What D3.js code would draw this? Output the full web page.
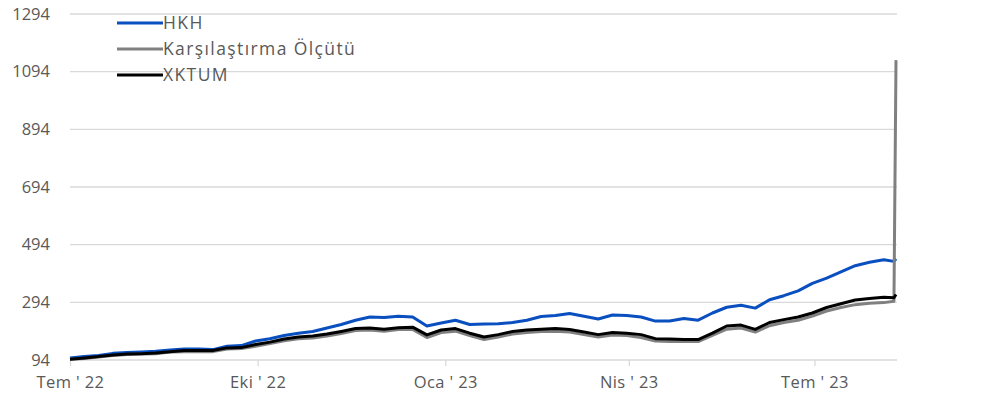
<!DOCTYPE html>
<html><head><meta charset="utf-8">
<script src="https://cdn.jsdelivr.net/npm/d3@7"></script>
<style>
html,body{margin:0;padding:0;background:#fff;}
svg text{font-family:"Open Sans",Lato,sans-serif;fill:#595959;}
</style></head>
<body><svg id="c" width="982" height="405"></svg>
<script>
const dates = ["2022-07-01","2022-07-08","2022-07-15","2022-07-22","2022-07-29","2022-08-05","2022-08-12","2022-08-19","2022-08-26","2022-09-02","2022-09-09","2022-09-16","2022-09-23","2022-09-30","2022-10-07","2022-10-14","2022-10-21","2022-10-28","2022-11-04","2022-11-11","2022-11-18","2022-11-25","2022-12-02","2022-12-09","2022-12-16","2022-12-23","2022-12-30","2023-01-06","2023-01-13","2023-01-20","2023-01-27","2023-02-03","2023-02-10","2023-02-17","2023-02-24","2023-03-03","2023-03-10","2023-03-17","2023-03-24","2023-03-31","2023-04-07","2023-04-14","2023-04-21","2023-04-28","2023-05-05","2023-05-12","2023-05-19","2023-05-26","2023-06-02","2023-06-09","2023-06-16","2023-06-23","2023-06-30","2023-07-07","2023-07-14","2023-07-21","2023-07-28","2023-08-04","2023-08-09","2023-08-10"];
const hkh = [101,106,110,117,120,122,124,129,132,132,130,142,144,160,168,179,187,193,205,217,232,243,241,246,243,212,222,232,217,219,220,224,232,245,248,255,246,236,250,248,243,229,229,238,232,257,277,284,274,303,317,334,360,378,400,421,433,442,436,445];
const benchmark = [97,99,104,110,113,115,116,122,123,123,123,132,134,142,151,161,168,170,177,186,196,198,194,200,200,172,189,194,179,165,174,184,189,193,194,191,182,174,181,179,172,160,158,158,158,179,201,205,191,213,224,232,246,264,276,286,291,293,298,1134];
const xktum = [97,101,106,111,115,116,118,123,127,127,127,136,137,148,156,167,174,177,184,193,203,205,201,206,208,181,198,203,187,174,182,193,198,201,203,200,191,182,189,187,182,168,167,165,165,187,212,215,200,224,234,243,257,276,289,302,307,312,310,321];
const seriesNames = ["HKH","Karşılaştırma Ölçütü","XKTUM"];
const seriesColors = ["#0a4fc0","#808080","#000000"];
const yTicks = [94,294,494,694,894,1094,1294];
const xTickDates = ["2022-07-01","2022-10-01","2023-01-01","2023-04-01","2023-07-01"];
const xTickLabels = ["Tem ' 22","Eki ' 22","Oca ' 23","Nis ' 23","Tem ' 23"];

const parse = d3.timeParse("%Y-%m-%d");
const svg = d3.select("#c");
const x = d3.scaleTime().domain([parse("2022-07-01"), parse("2023-08-10")]).range([70, 896]);
const y = d3.scaleLinear().domain([94, 1294]).range([360, 14]);

svg.append("g").selectAll("line").data(yTicks.slice(1)).join("line")
  .attr("x1", 70).attr("x2", 897).attr("y1", d => y(d)).attr("y2", d => y(d))
  .attr("stroke", "#d9d9d9").attr("stroke-width", 1.3);
svg.append("g").selectAll("text").data(yTicks).join("text")
  .attr("x", 50).attr("y", d => y(d)).attr("dy", "0.35em").attr("text-anchor", "end")
  .style("font-size", "16.5px").text(d => d);

const xAxis = d3.axisBottom(x).tickValues(xTickDates.map(parse)).tickSize(6)
  .tickFormat((d, i) => xTickLabels[i]);
const gx = svg.append("g").attr("transform", "translate(0,360)").call(xAxis);
gx.select(".domain").attr("stroke", "#d9d9d9").attr("stroke-width", 1.3).attr("d", "M70,0H897");
gx.selectAll(".tick line").attr("stroke", "#d9d9d9").attr("stroke-width", 1.3);
gx.selectAll(".tick text").attr("y", 16).style("font-size", "16.5px")
  .style("font-family", "'Open Sans',Lato,sans-serif").style("letter-spacing", "0.4px").attr("fill", "#595959");

const allSeries = [hkh, benchmark, xktum];
const line = d3.line().x(d => x(d.date)).y(d => y(d.v));
allSeries.forEach((s, k) => {
  const pts = dates.map((d, i) => ({date: parse(d), v: s[i]}));
  svg.append("path").datum(pts).attr("d", line).attr("fill", "none")
    .attr("stroke", seriesColors[k]).attr("stroke-width", 3).attr("stroke-linejoin", "round");
});

const lg = svg.append("g");
seriesNames.forEach((n, i) => {
  const yy = 23 + i * 26;
  lg.append("line").attr("x1", 117).attr("x2", 163).attr("y1", yy).attr("y2", yy)
    .attr("stroke", seriesColors[i]).attr("stroke-width", 3);
  lg.append("text").attr("x", 163).attr("y", yy).attr("dy", "0.35em")
    .style("font-size", "17.5px").style("letter-spacing", "1.4px").text(n);
});
</script></body></html>
